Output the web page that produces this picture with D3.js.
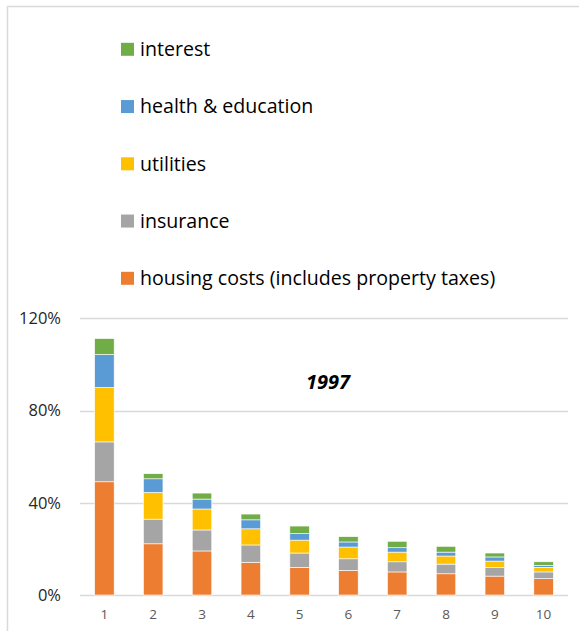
<!DOCTYPE html>
<html>
<head>
<meta charset="utf-8">
<script src="https://cdn.jsdelivr.net/npm/d3@7"></script>
<style>
  body { margin: 0; background: #fff; }
  svg { display: block; font-family: "Open Sans", "Noto Sans", sans-serif; }
</style>
</head>
<body>
<svg id="chart" width="579" height="631"></svg>
<script>
// deciles 1..10, share of income (%)
var deciles = ["1", "2", "3", "4", "5", "6", "7", "8", "9", "10"];
var housing   = [49.1, 22.2, 19.1, 14.2, 12.0, 10.7, 10.0, 9.2, 8.2, 7.1];
var insurance = [17.3, 10.7, 9.1, 7.5, 6.2, 5.0, 4.4, 4.2, 3.8, 2.9];
var utilities = [23.6, 11.6, 9.1, 7.0, 5.6, 5.1, 4.2, 3.5, 2.7, 2.0];
var health    = [14.3, 5.9, 4.3, 3.9, 2.8, 2.2, 1.9, 1.7, 1.8, 0.9];
var interest  = [6.9, 2.2, 2.6, 2.5, 3.3, 2.3, 2.8, 2.5, 1.7, 1.5];
var yTicks = [0, 40, 80, 120];

var seriesNames = ["housing costs (includes property taxes)", "insurance", "utilities", "health & education", "interest"];
var seriesValues = [housing, insurance, utilities, health, interest];
var colors = ["#ed7d31", "#a5a5a5", "#ffc000", "#5b9bd5", "#70ad47"];

var svg = d3.select("#chart");

// outer frame
svg.append("rect")
    .attr("x", 7.5).attr("y", 6.5)
    .attr("width", 700).attr("height", 700)
    .attr("fill", "none")
    .attr("stroke", "#d9d9d9")
    .attr("stroke-width", 1.5);

var x = d3.scaleBand()
    .domain(deciles)
    .range([80, 568])
    .paddingInner(0.6)
    .paddingOuter(0.3);

var y = d3.scaleLinear()
    .domain([0, 120])
    .range([595, 318.3]);

// gridlines
svg.append("g")
  .selectAll("line")
  .data(yTicks)
  .enter().append("line")
    .attr("x1", 80).attr("x2", 568)
    .attr("y1", function(d) { return Math.round(y(d)) + 0.5; })
    .attr("y2", function(d) { return Math.round(y(d)) + 0.5; })
    .attr("stroke", "#d9d9d9")
    .attr("stroke-width", 1.5);

// stacked bars
var table = deciles.map(function(d, i) {
  var row = { decile: d };
  seriesNames.forEach(function(s, j) { row[s] = seriesValues[j][i]; });
  return row;
});
var stacked = d3.stack().keys(seriesNames)(table);

svg.append("g")
  .selectAll("g")
  .data(stacked)
  .enter().append("g")
    .attr("fill", function(d, i) { return colors[i]; })
  .selectAll("rect")
  .data(function(d) { return d; })
  .enter().append("rect")
    .attr("x", function(d) { return x(d.data.decile); })
    .attr("width", x.bandwidth())
    .attr("y", function(d) { return y(d[1]); })
    .attr("height", function(d) { return y(d[0]) - y(d[1]); })
    .attr("stroke", "#fff")
    .attr("stroke-width", 0.6);

// y axis labels
svg.append("g")
  .selectAll("text")
  .data(yTicks)
  .enter().append("text")
    .attr("x", 61)
    .attr("y", function(d) { return y(d); })
    .attr("dy", "0.35em")
    .attr("text-anchor", "end")
    .attr("font-size", 16.5)
    .attr("fill", "#262626")
    .text(function(d) { return d + "%"; });

// x axis labels
svg.append("g")
  .selectAll("text")
  .data(deciles)
  .enter().append("text")
    .attr("x", function(d) { return x(d) + x.bandwidth() / 2; })
    .attr("y", 614)
    .attr("dy", "0.35em")
    .attr("text-anchor", "middle")
    .attr("font-size", 13.5)
    .attr("fill", "#595959")
    .text(function(d) { return d; });

// year label
svg.append("text")
    .attr("x", 328)
    .attr("y", 389)
    .attr("text-anchor", "middle")
    .attr("font-size", 20)
    .attr("font-weight", "bold")
    .attr("font-style", "italic")
    .attr("fill", "#000")
    .text("1997");

// legend, top to bottom
var legendOrder = [4, 3, 2, 1, 0];
var legend = svg.append("g")
  .selectAll("g")
  .data(legendOrder)
  .enter().append("g")
    .attr("transform", function(d, i) { return "translate(121," + (49.3 + i * 57.25) + ")"; });

legend.append("rect")
    .attr("x", 0).attr("y", -6.5)
    .attr("width", 13).attr("height", 13)
    .attr("fill", function(d) { return colors[d]; });

legend.append("text")
    .attr("x", 19)
    .attr("dy", "0.35em")
    .attr("font-size", 19.6)
    .attr("fill", "#000")
    .text(function(d) { return seriesNames[d]; });
</script>
</body>
</html>
